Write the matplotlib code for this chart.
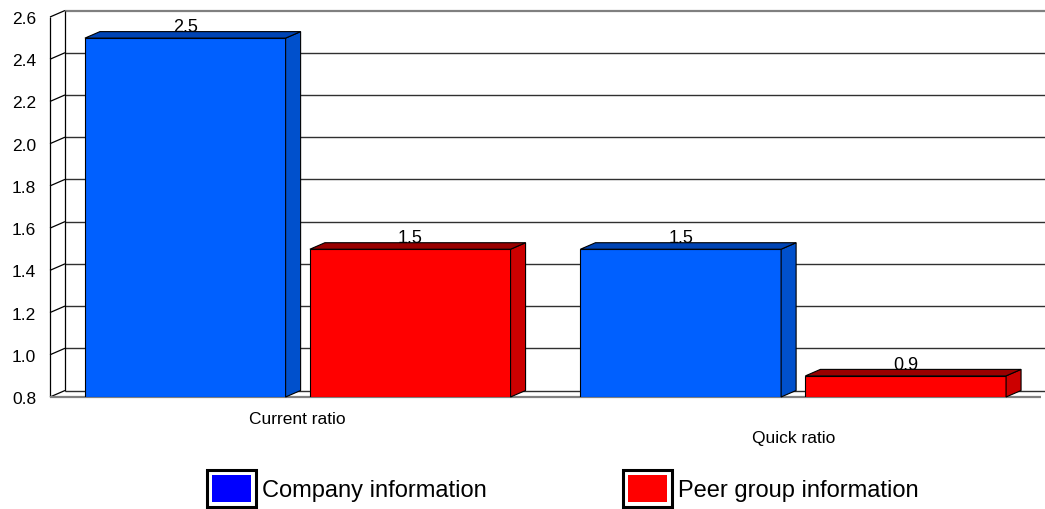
import matplotlib
matplotlib.use("Agg")
import matplotlib.pyplot as plt
from matplotlib.patches import Polygon, Rectangle
import numpy as np

plt.rcParams['font.family'] = ['Liberation Sans', 'DejaVu Sans']

# ---- data ----
categories = ["Current ratio", "Quick ratio"]
series_names = ["Company information", "Peer group information"]
company = [2.5, 1.5]
peer = [1.5, 0.9]
y_ticks = [0.8, 1.0, 1.2, 1.4, 1.6, 1.8, 2.0, 2.2, 2.4, 2.6]

# ---- style ----
front_cols = ["#0060FF", "#FF0000"]
side_cols = ["#0050CC", "#CC0000"]
top_cols = ["#0044B4", "#990000"]
legend_cols = ["#0000FF", "#FF0000"]
bar_w = 0.405
offsets = [-0.227, 0.227]
label_drop = [22, 41]          # staggered category labels (pixels below the floor)

W, H = 1045, 510
fig = plt.figure(figsize=(W / 100, H / 100), dpi=100)
ax = fig.add_axes([50 / W, 112 / H, 991 / W, 380 / H])
ymin, ymax = y_ticks[0], y_ticks[-1]
ax.set_xlim(-0.5, len(categories) - 0.5)
ax.set_ylim(ymin, ymax)
for s in ax.spines.values():
    s.set_visible(False)
ax.patch.set_visible(False)
ax.set_xticks([])
ax.set_yticks(y_ticks)
ax.set_yticklabels([f"{t:.1f}" for t in y_ticks], fontsize=12.5)
ax.tick_params(axis='y', length=0, pad=10)

# depth of the pseudo-3D effect, 15 px right and 6.5 px up, in data units
inv = ax.transData.inverted()
px0 = ax.transData.transform((0, ymin))
DX, DY = inv.transform(px0 + np.array([15, 6.5])) - np.array([0, ymin])

xl, xr = ax.get_xlim()
line_kw = dict(clip_on=False, solid_capstyle='butt')

# back wall gridlines
for t in y_ticks:
    col = "#808080" if t == ymax else "#303030"
    lw = 1.6 if t == ymax else 1.0
    ax.plot([xl + DX, xr + 2 * DX], [t + DY, t + DY], color=col, lw=lw, zorder=1, **line_kw)
    # left wall ticks
    ax.plot([xl, xl + DX], [t, t + DY], color="black", lw=0.9, zorder=1, **line_kw)
# left wall edges
ax.plot([xl, xl], [ymin, ymax], color="black", lw=0.9, zorder=1, **line_kw)
ax.plot([xl + DX, xl + DX], [ymin + DY, ymax + DY], color="black", lw=0.9, zorder=1, **line_kw)
# floor front edge
ax.plot([xl, xr], [ymin, ymin], color="#808080", lw=1.6, zorder=1, **line_kw)

# bars with side and top faces
x = np.arange(len(categories))
for k, vals in enumerate([company, peer]):
    xs = x + offsets[k]
    ax.bar(xs, np.array(vals) - ymin, bottom=ymin, width=bar_w,
           color=front_cols[k], edgecolor="black", linewidth=0.8, zorder=3)
    for xc, v in zip(xs, vals):
        l, r = xc - bar_w / 2, xc + bar_w / 2
        side = Polygon([(r, ymin), (r + DX, ymin + DY), (r + DX, v + DY), (r, v)],
                       closed=True, facecolor=side_cols[k], edgecolor="black",
                       linewidth=0.8, zorder=3, clip_on=False)
        top = Polygon([(l, v), (l + DX, v + DY), (r + DX, v + DY), (r, v)],
                      closed=True, facecolor=top_cols[k], edgecolor="black",
                      linewidth=0.8, zorder=3, clip_on=False)
        ax.add_patch(side)
        ax.add_patch(top)
        ax.annotate(f"{v:.1f}", xy=(xc, v), xytext=(0, 7), textcoords="offset pixels",
                    ha="center", va="baseline", fontsize=13, zorder=5)

# category labels
for i, name in enumerate(categories):
    ax.annotate(name, xy=(x[i], ymin), xytext=(0, -label_drop[i]),
                textcoords="offset pixels", ha="center", va="center",
                fontsize=12.5, annotation_clip=False)

# legend
def fig_rect(x0, y0, x1, y1, **kw):
    return Rectangle((x0 / W, 1 - y1 / H), (x1 - x0) / W, (y1 - y0) / H,
                     transform=fig.transFigure, **kw)

legend_boxes = [(207, 256), (623, 672)]
for (bx0, bx1), name, col in zip(legend_boxes, series_names, legend_cols):
    fig.add_artist(fig_rect(bx0, 471, bx1, 508, facecolor="white",
                            edgecolor="black", linewidth=2.2))
    fig.add_artist(fig_rect(bx0 + 5, 476, bx1 - 5, 503, facecolor=col,
                            edgecolor="none"))
    fig.text((bx1 + 6) / W, 1 - 491 / H, name, fontsize=17, ha="left", va="center")

fig.savefig("out.png", dpi=100)
